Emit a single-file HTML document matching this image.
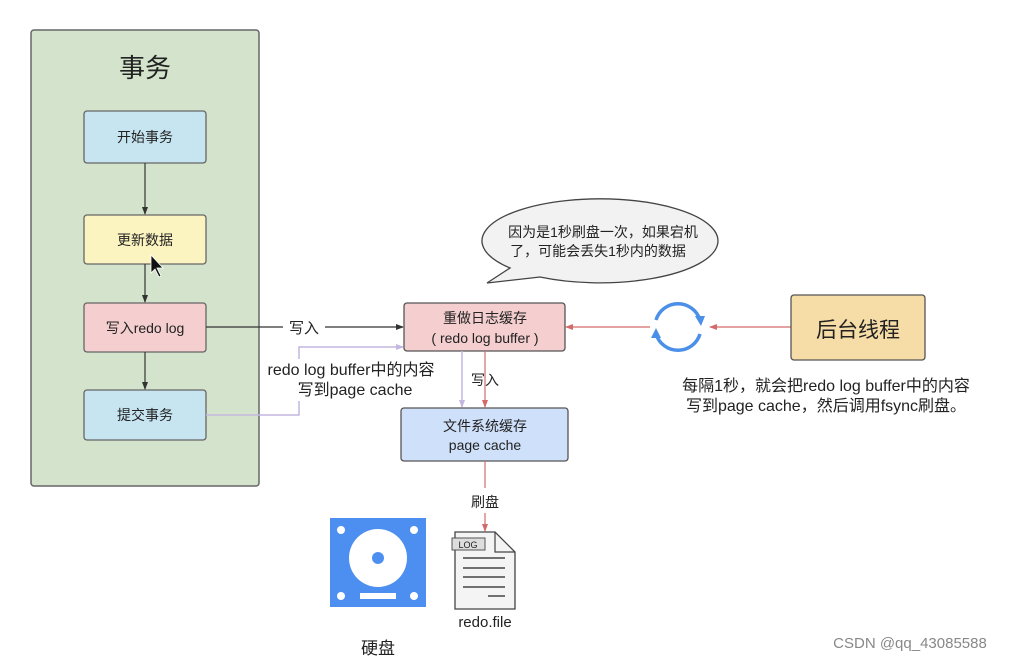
<!DOCTYPE html>
<html><head><meta charset="utf-8"><style>
html,body{margin:0;padding:0;background:#fff;width:1009px;height:661px;overflow:hidden}
text{font-family:"Liberation Sans","Noto Sans CJK SC",sans-serif;fill:#222}
</style></head><body>
<svg width="1009" height="661" viewBox="0 0 1009 661" xmlns="http://www.w3.org/2000/svg">
<defs>
<marker id="ak" markerWidth="8" markerHeight="8" refX="7" refY="4" orient="auto" markerUnits="userSpaceOnUse"><path d="M0,1 L8,4 L0,7 Z" fill="#333"/></marker>
<marker id="ar" markerWidth="8" markerHeight="8" refX="7" refY="4" orient="auto" markerUnits="userSpaceOnUse"><path d="M0,1 L8,4 L0,7 Z" fill="#d46a6a"/></marker>
<marker id="ap" markerWidth="8" markerHeight="8" refX="7" refY="4" orient="auto" markerUnits="userSpaceOnUse"><path d="M0,1 L8,4 L0,7 Z" fill="#c3b6e0"/></marker>
</defs>
<rect x="31" y="30" width="228" height="456" rx="3" fill="#d4e4cc" stroke="#666" stroke-width="1.5"/>
<text x="145" y="77" font-size="26" text-anchor="middle">事务</text>
<rect x="84" y="111" width="122" height="52" rx="3" fill="#c6e5f0" stroke="#666" stroke-width="1.3"/>
<text x="145" y="142" font-size="14" text-anchor="middle">开始事务</text>
<rect x="84" y="215" width="122" height="49" rx="3" fill="#fcf4c0" stroke="#666" stroke-width="1.3"/>
<text x="145" y="245" font-size="14" text-anchor="middle">更新数据</text>
<rect x="84" y="303" width="122" height="49" rx="3" fill="#f5cfcf" stroke="#666" stroke-width="1.3"/>
<text x="145" y="333" font-size="14" text-anchor="middle">写入redo log</text>
<rect x="84" y="390" width="122" height="50" rx="3" fill="#c6e5f0" stroke="#666" stroke-width="1.3"/>
<text x="145" y="420" font-size="14" text-anchor="middle">提交事务</text>
<line x1="145" y1="163" x2="145" y2="214" stroke="#333" stroke-width="1.2" marker-end="url(#ak)"/>
<line x1="145" y1="264" x2="145" y2="302" stroke="#333" stroke-width="1.2" marker-end="url(#ak)"/>
<line x1="145" y1="352" x2="145" y2="389" stroke="#333" stroke-width="1.2" marker-end="url(#ak)"/>
<path d="M151 255 l0 18 l4 -4 l4 8 l2 -1 l-4 -8 l6 0 Z" fill="#111" stroke="#fff" stroke-width="0.8"/>
<line x1="206" y1="327" x2="403" y2="327" stroke="#333" stroke-width="1.2" marker-end="url(#ak)"/>
<rect x="283" y="318" width="42" height="18" fill="#fff"/>
<text x="304" y="333" font-size="15" text-anchor="middle">写入</text>
<polyline points="206,415 299,415 299,347 403,347" fill="none" stroke="#c3b6e0" stroke-width="1.5" marker-end="url(#ap)"/>
<rect x="260" y="359" width="184" height="42" fill="#fff"/>
<text x="351" y="375" font-size="16" text-anchor="middle">redo log buffer中的内容</text>
<text x="355" y="395" font-size="16" text-anchor="middle">写到page cache</text>
<rect x="404" y="303" width="161" height="48" rx="3" fill="#f5cfcf" stroke="#555" stroke-width="1.3"/>
<text x="485" y="323" font-size="14" text-anchor="middle">重做日志缓存</text>
<text x="485" y="343" font-size="14" text-anchor="middle">( redo log buffer )</text>
<line x1="462" y1="351" x2="462" y2="407" stroke="#c3b6e0" stroke-width="1.5" marker-end="url(#ap)"/>
<line x1="485" y1="351" x2="485" y2="407" stroke="#d46a6a" stroke-width="1.2" marker-end="url(#ar)"/>
<text x="485" y="385" font-size="14" text-anchor="middle">写入</text>
<rect x="401" y="408" width="167" height="53" rx="3" fill="#cfe0fa" stroke="#555" stroke-width="1.3"/>
<text x="485" y="431" font-size="14" text-anchor="middle">文件系统缓存</text>
<text x="485" y="450" font-size="14" text-anchor="middle">page cache</text>
<line x1="485" y1="461" x2="485" y2="488" stroke="#d46a6a" stroke-width="1.2"/>
<text x="485" y="507" font-size="14" text-anchor="middle">刷盘</text>
<line x1="485" y1="513" x2="485" y2="531" stroke="#d46a6a" stroke-width="1.2" marker-end="url(#ar)"/>
<rect x="330" y="518" width="96" height="89" fill="#4d8ff0"/>
<circle cx="341" cy="530" r="4" fill="#fff"/><circle cx="414" cy="530" r="4" fill="#fff"/>
<circle cx="341" cy="596" r="4" fill="#fff"/><circle cx="414" cy="596" r="4" fill="#fff"/>
<circle cx="378" cy="558" r="29" fill="#fff"/><circle cx="378" cy="558" r="6" fill="#4d8ff0"/>
<rect x="360" y="593" width="36" height="6" fill="#fff"/>
<text x="378" y="654" font-size="17" text-anchor="middle">硬盘</text>
<path d="M455 532 L495 532 L515 552 L515 609 L455 609 Z" fill="#f4f4f4" stroke="#444" stroke-width="1.3"/>
<path d="M495 532 L495 552 L515 552" fill="none" stroke="#444" stroke-width="1.2"/>
<rect x="452" y="538" width="33" height="12" fill="#ddd" stroke="#555"/>
<text x="468" y="548" font-size="9" text-anchor="middle">LOG</text>
<g stroke="#444" stroke-width="1.5"><line x1="463" y1="558" x2="505" y2="558"/><line x1="463" y1="568" x2="505" y2="568"/><line x1="463" y1="577" x2="505" y2="577"/><line x1="463" y1="587" x2="505" y2="587"/><line x1="488" y1="596" x2="505" y2="596"/></g>
<text x="485" y="627" font-size="15" text-anchor="middle">redo.file</text>
<path d="M540 277 A118 42 0 1 0 510 268 L487 283 Z" fill="#f2f2f2" stroke="#444" stroke-width="1.3"/>
<text x="603" y="237" font-size="14" text-anchor="middle">因为是1秒刷盘一次，如果宕机</text>
<text x="598" y="256" font-size="14" text-anchor="middle">了，可能会丢失1秒内的数据</text>
<line x1="650" y1="327" x2="566" y2="327" stroke="#d46a6a" stroke-width="1.2" marker-end="url(#ar)"/>
<path d="M656 320 A23 23 0 0 1 700 320" fill="none" stroke="#4a8fe8" stroke-width="3.5"/>
<path d="M700 334 A23 23 0 0 1 656 334" fill="none" stroke="#4a8fe8" stroke-width="3.5"/>
<path d="M695 316 l10 0 l-4 10 Z" fill="#4a8fe8"/>
<path d="M651 338 l10 0 l-5 -10 Z" fill="#4a8fe8"/>
<line x1="791" y1="327" x2="710" y2="327" stroke="#d46a6a" stroke-width="1.2" marker-end="url(#ar)"/>
<rect x="791" y="295" width="134" height="65" rx="3" fill="#f6dca6" stroke="#555" stroke-width="1.3"/>
<text x="858" y="337" font-size="21" text-anchor="middle">后台线程</text>
<text x="826" y="391" font-size="16" text-anchor="middle">每隔1秒，就会把redo log buffer中的内容</text>
<text x="826" y="411" font-size="16" text-anchor="middle">写到page cache，然后调用fsync刷盘。</text>
<text x="910" y="648" font-size="15" text-anchor="middle" style="fill:#888">CSDN @qq_43085588</text>
</svg>
</body></html>
